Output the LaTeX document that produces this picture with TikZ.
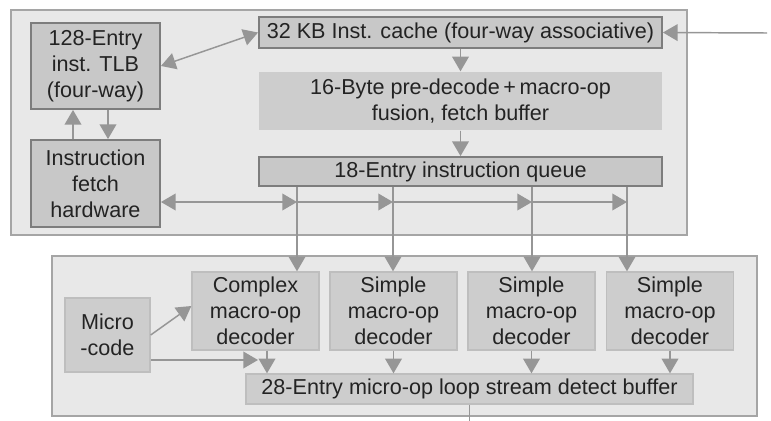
\documentclass[tikz,border=0pt]{standalone}
\usepackage{fontspec}
\setmainfont{Liberation Sans}
\usetikzlibrary{arrows.meta}

\definecolor{framefill}{RGB}{232,232,232}
\definecolor{frameline}{RGB}{165,165,165}
\definecolor{boxdark}{RGB}{200,200,200}
\definecolor{boxdarkline}{RGB}{125,125,125}
\definecolor{boxlight}{RGB}{205,205,205}
\definecolor{boxlightline}{RGB}{190,190,190}
\definecolor{arrowgray}{RGB}{150,150,150}
\definecolor{textgray}{RGB}{35,35,35}

\tikzset{every picture/.style={line width=0.75pt}}
\tikzset{
  >={Triangle[length=11pt,width=12.5pt]},
  frame/.style={draw=frameline,fill=framefill,line width=1.1pt},
  darkbox/.style={draw=boxdarkline,fill=boxdark,line width=1.4pt,inner sep=0pt,align=center,text=textgray},
  lightbox/.style={draw=boxlightline,fill=boxlight,line width=1pt,inner sep=0pt,align=center,text=textgray},
  arr/.style={draw=arrowgray,fill=arrowgray,line width=1.1pt,->},
  plainline/.style={draw=arrowgray,line width=1.1pt},
}

\begin{document}
\begin{tikzpicture}[x=0.75pt,y=0.75pt,yscale=-1,xscale=1,font=\fontsize{16.2}{19.6}\selectfont]
		\path[use as bounding box] (0,0) rectangle (771,421);

		%Shape: Rectangle [fetch unit frame]
		\draw[frame] (11,10) rectangle (687,235);
		%Shape: Rectangle [decode unit frame]
		\draw[frame] (52,256) rectangle (757,416);

		% Text Node
		\node[darkbox,minimum width=96.75pt,minimum height=64.5pt] (tlb) at (95.5,66) {128-Entry\\inst. TLB\\(four-way)};
		% Text Node
		\node[darkbox,minimum width=96.75pt,minimum height=65.25pt] (fetch) at (95.5,183.5) {Instruction\\fetch\\hardware};
		% Text Node
		\node[darkbox,minimum width=302.25pt,minimum height=23.25pt] (cache) at (460.5,32.5) {32 KB Inst. cache (four-way associative)};
		% Text Node
		\node[lightbox,draw=none,minimum width=302.25pt,minimum height=43.5pt] (predecode) at (460.5,101) {16-Byte pre-decode\,+\,macro-op\\fusion, fetch buffer};
		% Text Node
		\node[darkbox,minimum width=302.25pt,minimum height=21.75pt] (queue) at (460.5,171.5) {18-Entry instruction queue};

		% Text Node
		\node[lightbox,minimum width=63.75pt,minimum height=55.5pt] (microcode) at (107.5,335) {Micro\\-code};
		% Text Node
		\node[lightbox,minimum width=95.25pt,minimum height=58.5pt] (complex) at (255.5,311) {Complex\\macro-op\\decoder};
		% Text Node
		\node[lightbox,minimum width=95.25pt,minimum height=58.5pt] (simple1) at (393.5,311) {Simple\\macro-op\\decoder};
		% Text Node
		\node[lightbox,minimum width=95.25pt,minimum height=58.5pt] (simple2) at (531.5,311) {Simple\\macro-op\\decoder};
		% Text Node
		\node[lightbox,minimum width=95.25pt,minimum height=58.5pt] (simple3) at (670,311) {Simple\\macro-op\\decoder};
		% Text Node
		\node[lightbox,minimum width=335.25pt,minimum height=22.5pt] (loopbuf) at (469.5,389) {28-Entry micro-op loop stream detect buffer};

		%Coordinates
		\coordinate (in) at (767,33);
		\coordinate (t1) at (297,202);
		\coordinate (t2) at (393,202);
		\coordinate (t3) at (532,202);
		\coordinate (t4) at (627,202);
		\coordinate (mjoin) at (258,360);
		\coordinate (out) at (469.5,421);

		%Straight Lines [fetch side]
		\draw[arr,<->] (tlb.east) -- (cache.west);
		\draw[arr] (in) -- (cache.east);
		\draw[arr] (cache.south) -- (predecode.north);
		\draw[arr] (predecode.south) -- (queue.north);
		\draw[arr] (fetch.north -| 73,0) -- (tlb.south -| 73,0);
		\draw[arr] (tlb.south -| 108,0) -- (fetch.north -| 108,0);

		%Straight Lines [queue to decoders]
		\draw[arr] (queue.south -| t1) -- (complex.north -| t1);
		\draw[arr] (queue.south -| t2) -- (simple1.north -| t2);
		\draw[arr] (queue.south -| t3) -- (simple2.north -| t3);
		\draw[arr] (queue.south -| t4) -- (simple3.north -| t4);
		\draw[arr,<->] (fetch.east |- t1) -- (t1);
		\draw[arr] (t1) -- (t2);
		\draw[arr] (t2) -- (t3);
		\draw[arr] (t3) -- (t4);

		%Straight Lines [decoders to buffer]
		\draw[arr] (microcode.east) -- (complex.west |- 0,306);
		\draw[arr] (microcode.east |- mjoin) -- (mjoin);
		\draw[arr] (complex.south -| 267,0) -- (loopbuf.north -| 267,0);
		\draw[arr] (simple1.south) -- (loopbuf.north -| simple1.south);
		\draw[arr] (simple2.south) -- (loopbuf.north -| simple2.south);
		\draw[arr] (simple3.south) -- (loopbuf.north -| simple3.south);
		\draw[plainline] (loopbuf.south -| out) -- (out);
	\end{tikzpicture}
\end{document}
